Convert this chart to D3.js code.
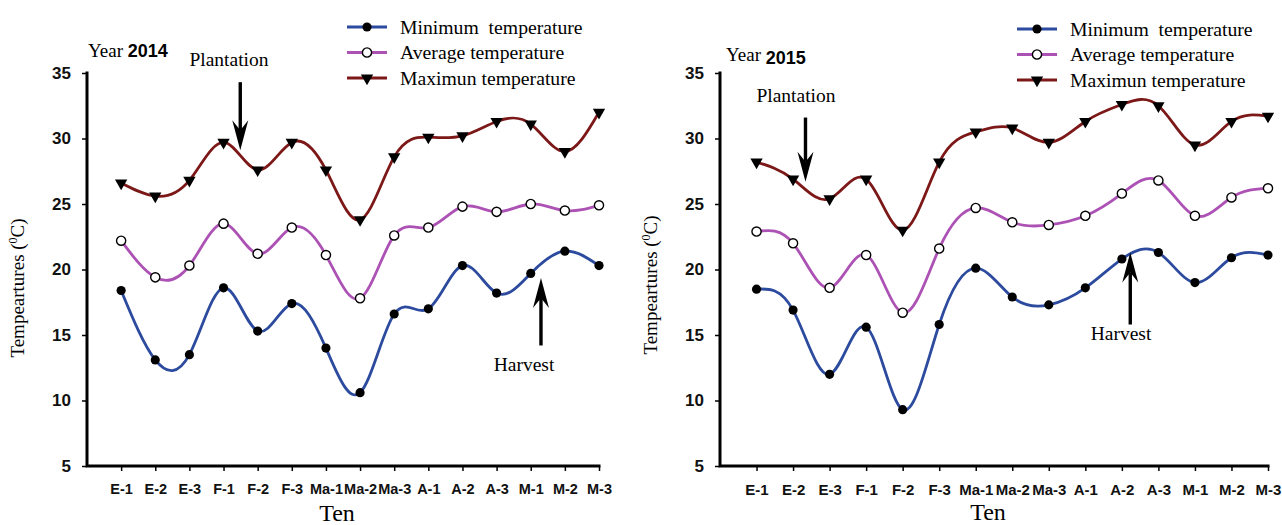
<!DOCTYPE html>
<html>
<head>
<meta charset="utf-8">
<script src="https://cdn.jsdelivr.net/npm/d3@7"></script>
<style>
  body { margin: 0; background: #fff; }
  svg { display: block; }
  .serif { font-family: "Liberation Serif", "Times New Roman", serif; }
  .sans { font-family: "Liberation Sans", Arial, sans-serif; font-weight: bold; }
</style>
</head>
<body>
<svg></svg>
<script>
"use strict";

// ten-day periods (E = enero, F = febrero, Ma = marzo, A = abril, M = mayo)
const ten = ["E-1", "E-2", "E-3", "F-1", "F-2", "F-3", "Ma-1", "Ma-2", "Ma-3",
             "A-1", "A-2", "A-3", "M-1", "M-2", "M-3"];
const yTicks = [5, 10, 15, 20, 25, 30, 35];

const min2014 = [18.4, 13.1, 13.5, 18.6, 15.3, 17.4, 14.0, 10.6, 16.6, 17.0, 20.3, 18.2, 19.7, 21.4, 20.3];
const avg2014 = [22.2, 19.4, 20.3, 23.5, 21.2, 23.2, 21.1, 17.8, 22.6, 23.2, 24.8, 24.4, 25.0, 24.5, 24.9];
const max2014 = [26.6, 25.6, 26.8, 29.7, 27.6, 29.7, 27.6, 23.8, 28.6, 30.1, 30.2, 31.3, 31.1, 29.0, 32.0];

const min2015 = [18.5, 16.9, 12.0, 15.6, 9.3, 15.8, 20.1, 17.9, 17.3, 18.6, 20.8, 21.3, 19.0, 20.9, 21.1];
const avg2015 = [22.9, 22.0, 18.6, 21.1, 16.7, 21.6, 24.7, 23.6, 23.4, 24.1, 25.8, 26.8, 24.1, 25.5, 26.2];
const max2015 = [28.2, 26.9, 25.4, 26.9, 23.0, 28.2, 30.5, 30.8, 29.7, 31.3, 32.6, 32.5, 29.5, 31.3, 31.7];

const seriesNames = ["Minimum  temperature", "Average temperature", "Maximun temperature"];
const seriesColors = ["#2d4b9e", "#ad52b5", "#7c1818"];

var svg = d3.select("svg").attr("width", 1282).attr("height", 525);

var panels = [
  { year: "2014", series: [min2014, avg2014, max2014],
    x0: 87, x1: 599, top: 73, bottom: 466, tickFont: 14.5,
    yLabelX: 24, yLabelY: 288, tenX: 337, tenY: 521,
    legX: 347, legY: 27,
    yearX: 88, yearY: 57, year2dy: 0,
    plant: { tx: 229, ty: 66, at: "F-1", frac: 0.49, y1: 34.3, y2: 29.1 },
    harv: { tx: 524, ty: 371, at: "M-1", frac: 0.3, y1: 14.2, y2: 19.35 } },
  { year: "2015", series: [min2015, avg2015, max2015],
    x0: 720, x1: 1268, top: 73, bottom: 466, tickFont: 15,
    yLabelX: 657, yLabelY: 285, tenX: 988, tenY: 520,
    legX: 1017, legY: 29,
    yearX: 726, yearY: 61, year2dy: 3,
    plant: { tx: 796, ty: 102, at: "E-2", frac: 0.34, y1: 31.6, y2: 26.7 },
    harv: { tx: 1121, ty: 340, at: "A-2", frac: 0.23, y1: 15.8, y2: 21.3 } }
];

panels.forEach(drawPanel);

function drawPanel(p) {
  var g = svg.append("g");
  var step = (p.x1 - p.x0) / ten.length;

  var x = d3.scalePoint().domain(ten).range([p.x0 + step, p.x1]);
  var y = d3.scaleLinear().domain([5, 35]).range([p.bottom, p.top]);

  // axes
  var yAxis = g.append("g").attr("transform", `translate(${p.x0},0)`)
    .call(d3.axisLeft(y).tickValues(yTicks).tickSize(5).tickPadding(11));
  var xAxis = g.append("g").attr("transform", `translate(0,${p.bottom})`)
    .call(d3.axisBottom(x).tickSize(5).tickPadding(13).tickSizeOuter(0));

  yAxis.select(".domain").remove();
  xAxis.select(".domain").remove();
  g.append("path")
    .attr("d", `M${p.x0},${p.top} V${p.bottom} H${p.x1}`)
    .attr("fill", "none").attr("stroke", "#000").attr("stroke-width", 3)
    .attr("stroke-linecap", "square");
  g.selectAll(".tick line").attr("stroke", "#000").attr("stroke-width", 1.5);
  yAxis.selectAll("text").attr("class", "sans").attr("font-size", 17).attr("fill", "#111");
  xAxis.selectAll("text").attr("class", "sans").attr("font-size", p.tickFont).attr("fill", "#111");

  // axis titles
  g.append("text").attr("class", "serif")
    .attr("x", p.tenX).attr("y", p.tenY)
    .attr("text-anchor", "middle").attr("font-size", 24)
    .text("Ten");

  var yl = g.append("text").attr("class", "serif")
    .attr("transform", `translate(${p.yLabelX},${p.yLabelY}) rotate(-90)`)
    .attr("text-anchor", "middle").attr("font-size", 19);
  yl.append("tspan").text("Tempeartures (");
  yl.append("tspan").attr("baseline-shift", "super").attr("font-size", 12).text("0");
  yl.append("tspan").text("C)");

  // series lines
  var line = d3.line()
    .x((d, i) => x(ten[i]))
    .y(d => y(d))
    .curve(d3.curveNatural);

  p.series.forEach(function(vals, s) {
    g.append("path")
      .datum(vals)
      .attr("d", line)
      .attr("fill", "none")
      .attr("stroke", seriesColors[s])
      .attr("stroke-width", 2.8);
  });

  p.series.forEach(function(vals, s) {
    var m = g.append("g").selectAll("path")
      .data(vals).enter().append("path")
      .attr("transform", (d, i) => `translate(${x(ten[i])},${y(d)})` + (s === 2 ? " rotate(180)" : ""));
    styleMarker(m, s);
  });

  // legend
  var leg = g.append("g").selectAll("g")
    .data(seriesNames).enter().append("g")
    .attr("transform", (d, i) => `translate(${p.legX},${p.legY + i * 25.5})`);
  leg.append("line")
    .attr("x1", 0).attr("x2", 40)
    .attr("stroke", (d, i) => seriesColors[i]).attr("stroke-width", 3);
  leg.each(function(d, i) {
    var m = d3.select(this).append("path")
      .attr("transform", "translate(20,0)" + (i === 2 ? " rotate(180)" : ""));
    styleMarker(m, i);
  });
  leg.append("text").attr("class", "serif")
    .attr("x", 53).attr("y", 6.5)
    .attr("font-size", 19.7)
    .attr("xml:space", "preserve")
    .style("white-space", "pre")
    .text(d => d);

  // year label
  var yr = g.append("text").attr("x", p.yearX).attr("y", p.yearY);
  yr.append("tspan").attr("class", "serif").attr("font-size", 19).text("Year ");
  yr.append("tspan").attr("class", "sans").attr("font-size", 18)
    .attr("dy", p.year2dy).text(p.year);

  // annotations
  [p.plant, p.harv].forEach(function(a, k) {
    var ax = x(a.at) + a.frac * step;
    drawArrow(g, ax, y(a.y1), y(a.y2));
    g.append("text").attr("class", "serif")
      .attr("x", a.tx).attr("y", a.ty)
      .attr("text-anchor", "middle").attr("font-size", 19.5)
      .text(k === 0 ? "Plantation" : "Harvest");
  });
}

function styleMarker(sel, s) {
  if (s === 2) {
    sel.attr("d", d3.symbol(d3.symbolTriangle, 66)).attr("fill", "#000");
  } else {
    sel.attr("d", d3.symbol(d3.symbolCircle, 66))
      .attr("fill", s === 0 ? "#000" : "#fff")
      .attr("stroke", "#000").attr("stroke-width", s === 0 ? 0 : 1.4);
  }
}

// thick arrow from (x, yFrom) with its tip at (x, yTo)
function drawArrow(g, x, yFrom, yTo) {
  var dir = yTo > yFrom ? 1 : -1;
  var head = 30, w = 8, notch = 20;
  g.append("line")
    .attr("x1", x).attr("x2", x)
    .attr("y1", yFrom).attr("y2", yTo - dir * notch)
    .attr("stroke", "#000").attr("stroke-width", 3.4);
  g.append("path")
    .attr("d", `M${x},${yTo} L${x - w},${yTo - dir * head} L${x},${yTo - dir * notch} L${x + w},${yTo - dir * head} Z`)
    .attr("fill", "#000");
}
</script>
</body>
</html>
